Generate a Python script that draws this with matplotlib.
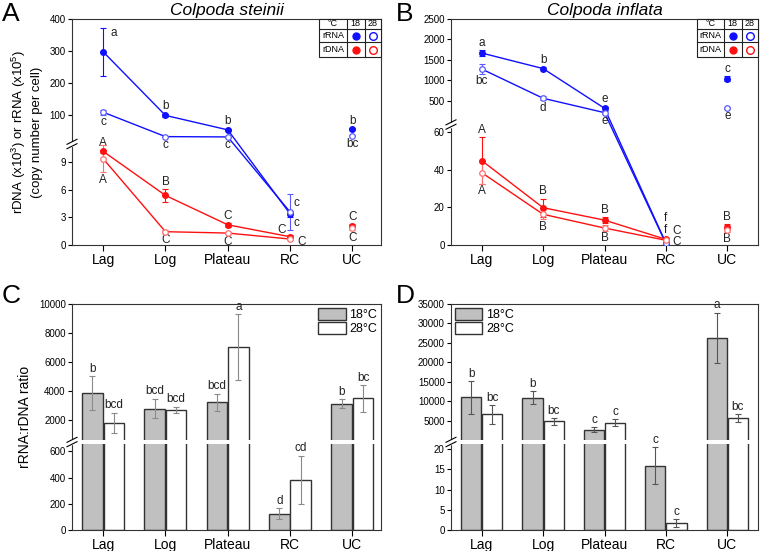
import numpy as np
import matplotlib
matplotlib.use("Agg")
import matplotlib.pyplot as plt
from matplotlib.patches import Rectangle, Patch
from matplotlib.ticker import NullLocator

plt.rcParams["font.family"] = ["Liberation Sans", "DejaVu Sans"]
plt.rcParams["mathtext.fontset"] = "custom"
plt.rcParams["mathtext.rm"] = "Liberation Sans"

stages = ["Lag", "Log", "Plateau", "RC", "UC"]

# panel A - Colpoda steinii (rRNA x10^5, rDNA x10^3)
a_rrna18 = [298, 100, 55, 3.4, 57]
a_rrna18_err = [75, 5, 4, 0.3, 3]
a_rrna28 = [110, 34, 33, 3.6, 37]
a_rrna28_err = [8, 2, 3, 2.0, 2]
a_rdna18 = [10.2, 5.4, 2.2, 0.9, 2.1]
a_rdna18_err = [0.15, 0.7, 0.2, 0.15, 0.15]
a_rdna28 = [9.4, 1.45, 1.3, 0.65, 1.8]
a_rdna28_err = [1.5, 0.15, 0.15, 0.1, 0.2]
a_lab_rrna18 = ["a", "b", "b", "c", "b"]
a_lab_rrna28 = ["c", "c", "c", "c", "bc"]
a_lab_rdna18 = ["A", "B", "C", "C", "C"]
a_lab_rdna28 = ["A", "C", "C", "C", "C"]

# panel B - Colpoda inflata
b_rrna18 = [1670, 1290, 322, 1.0, 1040]
b_rrna18_err = [70, 40, 40, 0.4, 60]
b_rrna28 = [1280, 566, 215, 0.8, 322]
b_rrna28_err = [110, 50, 30, 0.3, 20]
b_rdna18 = [44.8, 19.8, 13.2, 3.0, 9.7]
b_rdna18_err = [12.3, 4.7, 1.5, 0.3, 1.2]
b_rdna28 = [38.4, 16.3, 9.0, 2.5, 8.0]
b_rdna28_err = [5.8, 2.7, 1.5, 0.3, 1.0]
b_lab_rrna18 = ["a", "b", "e", "f", "c"]
b_lab_rrna28 = ["bc", "d", "e", "f", "e"]
b_lab_rdna18 = ["A", "B", "B", "C", "B"]
b_lab_rdna28 = ["A", "B", "B", "C", "B"]

# panel C - ratio, C. steinii
c_r18 = [3857, 2814, 3250, 125, 3160]
c_r18_err = [1170, 670, 600, 43, 320]
c_r28 = [1840, 2717, 7030, 381, 3510]
c_r28_err = [700, 230, 2250, 185, 900]
c_lab18 = ["b", "bcd", "bcd", "d", "b"]
c_lab28 = ["bcd", "bcd", "a", "cd", "bc"]

# panel D - ratio, C. inflata
d_r18 = [11000, 10900, 2720, 15.9, 26300]
d_r18_err = [4200, 1700, 650, 4.6, 6500]
d_r28 = [6650, 4800, 4450, 1.7, 5600]
d_r28_err = [2400, 800, 950, 1.0, 1000]
d_lab18 = ["b", "b", "c", "c", "a"]
d_lab28 = ["bc", "bc", "c", "c", "bc"]

BLUE, BLUE2 = "#1010ff", "#5a5aff"
RED, RED2 = "#ff1010", "#ff6f6f"

W, H = 760, 551
fig = plt.figure(figsize=(7.6, 5.51), dpi=100)


def make_axes(l, t, r, b):
    return fig.add_axes([l / W, 1 - b / H, (r - l) / W, (b - t) / H])


def broken_scale(ax, xs, fs):
    xs = np.asarray(xs, float)
    fs = np.asarray(fs, float)

    def fwd(v):
        v = np.asarray(v, float)
        out = np.interp(v, xs, fs)
        out = np.where(v < xs[0], fs[0] + (v - xs[0]) * (fs[1] - fs[0]) / (xs[1] - xs[0]), out)
        out = np.where(v > xs[-1], fs[-1] + (v - xs[-1]) * (fs[-1] - fs[-2]) / (xs[-1] - xs[-2]), out)
        return out

    def inv(f):
        f = np.asarray(f, float)
        out = np.interp(f, fs, xs)
        out = np.where(f < fs[0], xs[0] + (f - fs[0]) * (xs[1] - xs[0]) / (fs[1] - fs[0]), out)
        out = np.where(f > fs[-1], xs[-1] + (f - fs[-1]) * (xs[-1] - xs[-2]) / (fs[-1] - fs[-2]), out)
        return out

    ax.set_yscale("function", functions=(fwd, inv))


def break_mark(ax, yf):
    bb = ax.get_position()
    wpx, hpx = bb.width * W, bb.height * H
    dx, dy = 1 / wpx, 1 / hpx
    ax.add_patch(Rectangle((-2 * dx, yf - 2 * dy), 4 * dx, 4 * dy, transform=ax.transAxes,
                           color="white", clip_on=False, zorder=5))
    for off in (-2.2, 2.2):
        ax.plot([-5 * dx, 5 * dx], [yf + (off - 2.5) * dy, yf + (off + 2.5) * dy],
                transform=ax.transAxes, color="black", lw=0.8, clip_on=False, zorder=6)


def style(ax, yticks, ytop):
    ax.set_ylim(0, ytop)
    ax.set_yticks(yticks, [str(t) for t in yticks])
    ax.yaxis.set_minor_locator(NullLocator())
    ax.set_xticks(np.arange(1, 6), stages)
    ax.tick_params(axis="y", direction="out", length=3, width=0.8, labelsize=7, pad=1.5)
    ax.tick_params(axis="x", direction="out", length=4, width=0.8, labelsize=10, pad=1.5)
    for s in ax.spines.values():
        s.set_linewidth(0.8)
        s.set_color("#333333")


def note(ax, x, y, s, dx, dy, va, ha="center"):
    ax.annotate(s, (x, y), xytext=(dx, dy), textcoords="offset points",
                ha=ha, va=va, fontsize=8.5, color="#222222")


def key_table(ax):
    xl, xa, xb, xr = 0.80, 0.889, 0.947, 1.0
    yt, y1, y2, yb = 1.0, 0.956, 0.897, 0.830
    ax.add_patch(Rectangle((xl, yb), xr - xl, yt - yb, transform=ax.transAxes,
                           fc="white", ec="#222222", lw=0.8, zorder=7, clip_on=False))
    kw = dict(transform=ax.transAxes, color="#222222", lw=0.8, zorder=8, clip_on=False)
    ax.plot([xa, xa], [yb, yt], **kw)
    ax.plot([xb, xb], [yb, yt], **kw)
    ax.plot([xl, xr], [y1, y1], **kw)
    ax.plot([xl, xr], [y2, y2], **kw)
    tk = dict(transform=ax.transAxes, ha="center", va="center", fontsize=6.5, zorder=9)
    ax.text((xl + xa) / 2, (yt + y1) / 2, "°C", **tk)
    ax.text((xa + xb) / 2, (yt + y1) / 2, "18", **tk)
    ax.text((xb + xr) / 2, (yt + y1) / 2, "28", **tk)
    ax.text((xl + xa) / 2, (y1 + y2) / 2, "rRNA", **tk)
    ax.text((xl + xa) / 2, (y2 + yb) / 2, "rDNA", **tk)
    for yy, c in (((y1 + y2) / 2, BLUE), ((y2 + yb) / 2, RED)):
        ax.plot((xa + xb) / 2, yy, "o", ms=5, color=c, transform=ax.transAxes, zorder=9, clip_on=False)
        ax.plot((xb + xr) / 2, yy, "o", ms=5.5, mfc="white", mec=c, mew=1.0,
                transform=ax.transAxes, zorder=9, clip_on=False)


def line_series(ax, vals, errs, col, ecol, filled):
    x = np.arange(1, 6)
    v = np.asarray(vals)
    e = np.asarray(errs)
    ax.plot(x[:4], v[:4], "-", color=col, lw=1.0, zorder=3)
    if filled:
        mk = dict(marker="o", ms=4, color=col, mec=col)
    else:
        mk = dict(marker="o", ms=4, mfc="white", mec=ecol, mew=0.9)
    ax.errorbar(x, v, yerr=e, fmt="none", ecolor=ecol, elinewidth=0.8, capsize=2.2,
                capthick=0.8, zorder=3.5)
    ax.plot(x, v, linestyle="none", zorder=4, **mk)


# ---------- panel A ----------
axA = make_axes(72, 19, 381, 245)
broken_scale(axA, [0, 11, 400], [0, 101, 226])
axA.set_xlim(0.5, 5.46)
line_series(axA, a_rrna18, a_rrna18_err, BLUE, BLUE, True)
line_series(axA, a_rrna28, a_rrna28_err, BLUE, BLUE2, False)
line_series(axA, a_rdna18, a_rdna18_err, RED, RED, True)
line_series(axA, a_rdna28, a_rdna28_err, RED, RED2, False)
style(axA, [0, 3, 6, 9, 100, 200, 300, 400], 400)
for i in range(5):
    x = i + 1
    if i == 0:
        note(axA, x, a_rrna18[i] + a_rrna18_err[i], a_lab_rrna18[i], 5, -4, "center", "left")
    elif i != 3:
        note(axA, x, a_rrna18[i] + a_rrna18_err[i], a_lab_rrna18[i], 0, 1, "bottom")
    if i != 3:
        note(axA, x, a_rrna28[i] - a_rrna28_err[i], a_lab_rrna28[i], 0, -1, "top")
        note(axA, x, a_rdna18[i] + a_rdna18_err[i], a_lab_rdna18[i], 0, 1, "bottom")
        note(axA, x, a_rdna28[i] - a_rdna28_err[i], a_lab_rdna28[i], 0, -1, "top")
note(axA, 4, a_rrna18[3], a_lab_rrna18[3], 2.5, 8, "center", "left")
note(axA, 4, a_rrna28[3], a_lab_rrna28[3], 2.5, -8, "center", "left")
note(axA, 4, a_rdna18[3], a_lab_rdna18[3], -3, 5, "center", "right")
note(axA, 4, a_rdna28[3], a_lab_rdna28[3], 5, -2, "center", "left")
break_mark(axA, 101 / 226)
key_table(axA)
axA.set_title("Colpoda steinii", style="italic", fontsize=12.5, pad=3)
axA.set_ylabel("rDNA (x10$^{\\mathregular{3}}$) or rRNA (x10$^{\\mathregular{5}}$)\n(copy number per cell)",
               fontsize=9.5, linespacing=1.25)
axA.yaxis.set_label_coords(-0.095, 0.5)

# ---------- panel B ----------
axB = make_axes(451, 19, 758, 245)
broken_scale(axB, [0, 64, 65, 2500], [0, 120.6, 126.2, 226])
axB.set_xlim(0.5, 5.5)
line_series(axB, b_rrna18, b_rrna18_err, BLUE, BLUE, True)
line_series(axB, b_rrna28, b_rrna28_err, BLUE, BLUE2, False)
line_series(axB, b_rdna18, b_rdna18_err, RED, RED, True)
line_series(axB, b_rdna28, b_rdna28_err, RED, RED2, False)
style(axB, [0, 20, 40, 60, 500, 1000, 1500, 2000, 2500], 2500)
for i in range(5):
    x = i + 1
    if i == 3:
        continue
    note(axB, x, b_rrna18[i] + b_rrna18_err[i], b_lab_rrna18[i], 0, 1, "bottom")
    note(axB, x, b_rrna28[i] - b_rrna28_err[i], b_lab_rrna28[i], 0, -1, "top")
    note(axB, x, b_rdna18[i] + b_rdna18_err[i], b_lab_rdna18[i], 0, 1, "bottom")
    note(axB, x, b_rdna28[i] - b_rdna28_err[i], b_lab_rdna28[i], 0, -1, "top")
note(axB, 4, b_rrna18[3], b_lab_rrna18[3], 0, 18, "center")
note(axB, 4, b_rrna28[3], b_lab_rrna28[3], 0, 9.5, "center")
note(axB, 4, b_rdna18[3], b_lab_rdna18[3], 5, 6, "center", "left")
note(axB, 4, b_rdna28[3], b_lab_rdna28[3], 5, -1.5, "center", "left")
break_mark(axB, 0.533)
key_table(axB)
axB.set_title("Colpoda inflata", style="italic", fontsize=12.5, pad=3)


# ---------- bar panels ----------
def bar_panel(ax, v18, e18, v28, e28, l18, l28, ecol):
    x = np.arange(1, 6)
    w, off = 0.33, 0.172
    ax.bar(x - off, v18, w, color="#c0c0c0", edgecolor="#333333", lw=1.0, zorder=1)
    ax.bar(x + off, v28, w, color="white", edgecolor="#333333", lw=1.0, zorder=1)
    ax.errorbar(x - off, v18, yerr=e18, fmt="none", ecolor=ecol, elinewidth=0.8,
                capsize=2.2, capthick=0.8, zorder=3)
    ax.errorbar(x + off, v28, yerr=e28, fmt="none", ecolor=ecol, elinewidth=0.8,
                capsize=2.2, capthick=0.8, zorder=3)
    for i in range(5):
        note(ax, x[i] - off, v18[i] + e18[i], l18[i], 0, 1, "bottom")
        note(ax, x[i] + off, v28[i] + e28[i], l28[i], 0, 1, "bottom")
    ax.set_xlim(0.5, 5.5)


axC = make_axes(72, 304, 381, 530)
broken_scale(axC, [0, 656, 657, 10000], [0, 86, 90, 226])
bar_panel(axC, c_r18, c_r18_err, c_r28, c_r28_err, c_lab18, c_lab28, "#8a8a8a")
axC.set_xlim(0.5, 5.46)
axC.axhspan(656, 657, color="white", zorder=2.2, lw=0)
style(axC, [0, 200, 400, 600, 2000, 4000, 6000, 8000, 10000], 10000)
break_mark(axC, 88 / 226)
axC.set_ylabel("rRNA:rDNA ratio", fontsize=10)
axC.yaxis.set_label_coords(-0.13, 0.5)
axC.legend(handles=[Patch(fc="#c0c0c0", ec="#333333", lw=1.0, label="18°C"),
                    Patch(fc="white", ec="#333333", lw=1.0, label="28°C")],
           loc="upper right", bbox_to_anchor=(1.0, 1.0), frameon=False, fontsize=9,
           handlelength=2.2, handleheight=1.1, labelspacing=0.1, handletextpad=0.3,
           borderaxespad=0.2, borderpad=0.1)

axD = make_axes(451, 304, 758, 530)
broken_scale(axD, [0, 21.3, 21.4, 35000], [0, 86, 90, 226])
bar_panel(axD, d_r18, d_r18_err, d_r28, d_r28_err, d_lab18, d_lab28, "#555555")
axD.axhspan(21.3, 21.4, color="white", zorder=2.2, lw=0)
style(axD, [0, 5, 10, 15, 20, 5000, 10000, 15000, 20000, 25000, 30000, 35000], 35000)
break_mark(axD, 88 / 226)
axD.legend(handles=[Patch(fc="#c0c0c0", ec="#333333", lw=1.0, label="18°C"),
                    Patch(fc="white", ec="#333333", lw=1.0, label="28°C")],
           loc="upper left", bbox_to_anchor=(0.0, 1.0), frameon=False, fontsize=9,
           handlelength=2.2, handleheight=1.1, labelspacing=0.1, handletextpad=0.3,
           borderaxespad=0.2, borderpad=0.1)

for s, x, y in (("A", 2, 2), ("B", 396, 2), ("C", 2, 284), ("D", 396, 284)):
    fig.text(x / W, 1 - y / H, s, fontsize=19, va="top", ha="left")

fig.savefig("out.png", dpi=100)
